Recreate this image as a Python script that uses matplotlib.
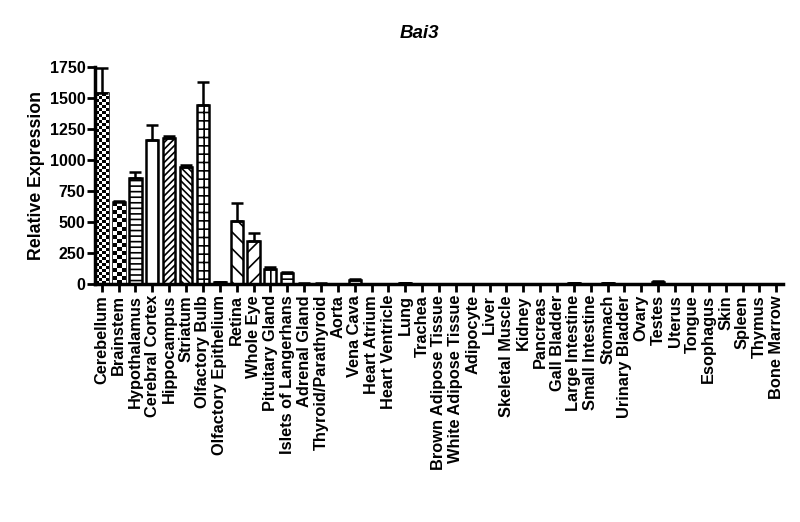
import numpy as np
import matplotlib
matplotlib.use("Agg")
import matplotlib.pyplot as plt

plt.rcParams['font.family'] = ['Liberation Sans', 'DejaVu Sans']
plt.rcParams['font.weight'] = 'bold'
plt.rcParams['hatch.linewidth'] = 1.2

tissues = ["Cerebellum", "Brainstem", "Hypothalamus", "Cerebral Cortex", "Hippocampus",
           "Striatum", "Olfactory Bulb", "Olfactory Epithelium", "Retina", "Whole Eye",
           "Pituitary Gland", "Islets of Langerhans", "Adrenal Gland", "Thyroid/Parathyroid",
           "Aorta", "Vena Cava", "Heart Atrium", "Heart Ventricle", "Lung", "Trachea",
           "Brown Adipose Tissue", "White Adipose Tissue", "Adipocyte", "Liver",
           "Skeletal Muscle", "Kidney", "Pancreas", "Gall Bladder", "Large Intestine",
           "Small Intestine", "Stomach", "Urinary Bladder", "Ovary", "Testes", "Uterus",
           "Tongue", "Esophagus", "Skin", "Spleen", "Thymus", "Bone Marrow"]
expression = [1540, 660, 855, 1160, 1180, 945, 1440, 15, 505, 350,
              120, 85, 4, 4, 3, 35, 2, 2, 5, 2,
              2, 2, 2, 2, 2, 2, 2, 2, 6, 2,
              5, 2, 2, 20, 2, 2, 2, 2, 2, 2, 2]
errors = [200, 12, 45, 120, 10, 15, 190, 3, 145, 60,
          15, 12, 1, 1, 1, 8, 1, 1, 2, 1,
          1, 1, 1, 1, 1, 1, 1, 1, 2, 1,
          2, 1, 1, 8, 1, 1, 1, 1, 1, 1, 1]
hatches = ["checker_fine", "checker", "---", "|", "/////", "\\\\\\\\\\", "++", "",
           "\\\\", "//", "||", "--", "", "", "", "", "", "", "", "",
           "", "", "", "", "", "", "", "", "", "", "", "", "", "", "", "", "", "", "", "", ""]
yticks = [0, 250, 500, 750, 1000, 1250, 1500, 1750]

fig = plt.figure(figsize=(8, 5.22), dpi=100)
ax = fig.add_axes([95 / 800, 1 - 284 / 522, (783 - 95) / 800, (284 - 67) / 522])

x = np.arange(len(tissues))
bars = ax.bar(x, expression, width=0.72, color="white", edgecolor="black",
              linewidth=1.8, zorder=2)
ax.errorbar(x, expression, yerr=[np.zeros(len(errors)), errors], fmt="none",
            ecolor="black", elinewidth=1.8, capsize=4, capthick=1.8, zorder=3)

for bar, h in zip(bars, hatches):
    if h.startswith("checker"):
        cols = 4 if h == "checker_fine" else 3
        bx, bw, bh = bar.get_x(), bar.get_width(), bar.get_height()
        rows = int(round(cols * bh / 1750 * 217 / (bw * 16.8)))
        board = np.indices((rows, cols)).sum(axis=0) % 2
        im = ax.imshow(board, cmap="gray", extent=(bx, bx + bw, 0, bh),
                       aspect="auto", interpolation="nearest", zorder=2.5)
        im.set_clip_path(bar)
    elif h:
        bar.set_hatch(h)

ax.set_xlim(-0.4, len(tissues) - 0.6)
ax.set_ylim(0, 1750)
ax.set_yticks(yticks)
ax.set_xticks(x)
ax.set_xticklabels(tissues, rotation=90, fontsize=11.8, fontweight="bold")
ax.tick_params(axis="y", labelsize=11.5, width=2, length=6, pad=1)
ax.tick_params(axis="x", width=2, length=6, pad=2)
for lab in ax.get_yticklabels():
    lab.set_fontweight("bold")
ax.set_ylabel("Relative Expression", fontsize=12.8, fontweight="bold", labelpad=3)

for side in ["top", "right"]:
    ax.spines[side].set_visible(False)
for side in ["left", "bottom"]:
    ax.spines[side].set_linewidth(2.5)

fig.text(419 / 800, 1 - 33 / 522, "Bai3", ha="center", va="center",
         fontsize=13.5, fontweight="bold", fontstyle="italic")

fig.savefig("out.png", dpi=100)
